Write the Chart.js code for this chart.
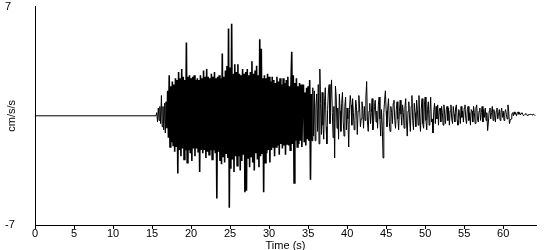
<!DOCTYPE html>
<html lang="en">
<head>
<meta charset="UTF-8">
<title>Acceleration record</title>
<script src="https://cdn.jsdelivr.net/npm/chart.js@4"></script>
<style>
  * { margin: 0; padding: 0; }
  body { background: #fff; width: 550px; height: 250px; overflow: hidden; }
</style>
</head>
<body>
<canvas id="chart" width="550" height="250"></canvas>
<script>
// ---------- data ----------
const X_TICKS = [0, 5, 10, 15, 20, 25, 30, 35, 40, 45, 50, 55, 60];
const Y_TICKS = [-7, 7];
const X_TITLE = 'Time (s)';
const Y_TITLE = 'cm/s/s';

// quiet part before the first arrival
const QUIET = [[0, 0], [15.5, 0]];

// samples every 0.1 s, starting at 15.6 s (one row per second after the first)
const START = 15.6;
const STEP = 0.1;
const ACCEL = [
  0.2, -0.4, 0.5, -0.3,
  0.6, -0.5, 1.3, -0.7, 0.6, -0.9, 0.8, -1.1, 0.9, -0.8,
  1.6, -1.4, 2.6, -2.0, 1.9, -1.7, 2.2, -1.9, 2.0, -2.3,
  2.4, -2.0, 2.3, -3.7, 2.8, -2.2, 2.4, -2.6, 3.0, -2.1,
  2.5, -2.8, 2.3, -2.2, 4.7, -3.0, 2.5, -2.2, 2.6, -2.4,
  2.4, -2.9, 2.5, -2.1, 2.6, -2.6, 2.3, -2.1, 2.4, -2.3,
  2.3, -3.6, 2.6, -2.2, 2.4, -2.4, 2.9, -2.2, 2.5, -2.7,
  3.0, -2.3, 2.5, -2.5, 2.4, -2.2, 2.7, -2.8, 2.5, -2.2,
  2.8, -2.4, 2.4, -5.3, 2.5, -2.3, 2.6, -2.9, 2.4, -3.1,
  4.0, -2.6, 2.5, -3.0, 2.9, -2.4, 3.2, -2.7, 5.6, -5.9,
  3.1, -3.4, 5.9, -2.8, 2.7, -3.6, 3.3, -2.6, 2.8, -3.2,
  3.3, -2.6, 2.7, -3.5, 2.6, -2.9, 3.0, -2.5, 2.7, -4.9,
  2.8, -4.8, 3.0, -2.7, 2.6, -3.3, 2.8, -2.6, 3.5, -3.0,
  2.7, -3.5, 2.9, -2.4, 3.2, -2.8, 2.6, -3.3, 4.9, -2.6,
  4.3, -2.4, 2.4, -4.9, 2.6, -3.0, 2.4, -2.4, 2.7, -2.2,
  2.5, -3.0, 2.2, -2.2, 2.5, -2.0, 2.3, -2.6, 2.1, -2.0,
  2.5, -1.9, 2.2, -2.5, 2.4, -1.8, 2.0, -2.1, 2.4, -1.9,
  2.1, -2.5, 2.3, -1.8, 2.5, -1.9, 1.9, -2.2, 2.0, 4.1,
  -1.8, 2.6, -4.3, 2.1, -1.6, 2.4, -2.0, 1.9, -1.8, 2.1,
  -1.6, 2.0, -2.0, 1.6, 2.0, -1.7, 1.5, -1.9, 1.8, -1.5,
  1.9, -1.6, 2.3, -4.1, 1.4, -1.6, 1.8, -1.3, 1.6, -1.6,
  0.6, 1.4, -1.0, 2.0, -1.8, 3.0, 0.8, -1.2, 1.5, -0.6,
  -1.5, 0.9, 1.8, -0.7, -1.8, 0.4, 1.6, 2.0, -0.5, 1.1,
  2.3, 0.2, -1.4, 0.6, -2.7, 1.9, 1.2, -0.8, 0.5, -1.5,
  1.4, 0.3, -1.0, 0.8, 1.5, -0.4, -1.3, 0.6, 1.2, -0.9,
  0.5, -0.2, -2.0, 0.4, 1.3, 0.7, -0.6, 1.1, 0.2, -0.9,
  -0.3, 1.0, 0.6, -1.2, 0.3, 1.3, 0.5, -0.7, -0.2, 0.9,
  0.4, -0.8, 0.6, -0.3, 1.2, 2.2, -0.4, -1.0, 0.3, 0.8,
  -0.5, 0.2, 1.1, -0.9, -0.3, 0.6, 1.0, -0.4, 0.3, -0.8,
  0.7, 1.2, -0.2, -1.3, 0.4, -0.6, -2.7, 0.2, 1.0, 1.6,
  0.3, -0.7, 0.5, 1.1, -0.4, -1.0, 0.6, 0.2, -0.5, 0.8,
  1.0, -0.3, -0.8, 0.4, 0.9, -0.2, -0.9, 0.3, 1.0, 0.1,
  -0.6, 0.7, 0.2, -0.8, 0.5, 1.1, -0.4, -1.3, 0.3, 0.9,
  -0.2, -1.0, 0.6, 1.3, -0.3, -0.9, 0.8, 0.2, -0.7, 1.0,
  0.4, -0.6, 1.3, -0.2, -1.0, 0.5, 1.1, -0.5, -0.8, 0.7,
  1.2, -0.3, -0.9, 0.4, 0.9, -0.6, 0.1, 1.2, -0.4, -0.2,
  -1.1, 0.3, 0.8, -0.5, 0.6, -0.2, 0.7, -0.6, 0.3, 0.5,
  -0.4, 0.6, 0.2, -0.6, 0.7, 0.1, -0.5, 0.4, 0.6, -0.3,
  0.5, -0.6, 0.3, 0.7, -0.2, -0.5, 0.6, 0.1, -0.4, 0.5,
  0.7, -0.3, -0.6, 0.4, 0.2, -0.5, 0.6, -0.1, 0.3, -0.4,
  0.5, 0.7, -0.2, -0.5, 0.4, 0.6, -0.3, 0.2, -0.6, 0.4,
  0.3, -0.4, 0.6, 0.2, -0.5, 0.5, 0.7, -0.2, -0.4, 0.3,
  0.5, -0.3, 0.2, 0.6, -0.4, 0.4, -0.1, 0.5, -0.3, 0.2,
  -0.95, -0.4, 0.3, 0.5, -0.2, 0.2, 0.6, -0.3, 0.4, 0.1,
  -0.4, 0.3, 0.5, -0.2, 0.1, 0.4, -0.3, 0.2, 0.5, -0.1,
  0.3, -0.3, 0.2, 0.4, 0.1, -0.2, 0.7, 0.3, -0.5, -0.3,
  -0.2, 0.1, 0.2, 0.0, 0.25, 0.1, 0.2, 0.0, 0.15, 0.25,
  0.1, 0.2, 0.05, 0.15, 0.2, 0.1, 0.0, 0.05, 0.1, 0.15,
  0.1, 0.0, 0.05, 0.1, 0.05, 0.1, 0.1, 0.05, 0.1, 0.1,
  0.05, 0.0
];

// ---------- chart ----------
const points = QUIET.map(([x, y]) => ({ x, y }))
  .concat(ACCEL.map((y, i) => ({ x: +(START + i * STEP).toFixed(2), y })));

const FONT = { family: 'Liberation Sans, Arial, sans-serif', size: 11 };

// the strong-motion stretch prints as a near-solid mass, so draw it a bit heavier
const heavy = ctx => (ctx.p0.parsed.x >= 16.8 && ctx.p1.parsed.x <= 35.5 ? 1.6 : 1);

new Chart(document.getElementById('chart'), {
  type: 'line',
  data: {
    datasets: [{
      data: points,
      borderColor: '#000',
      borderWidth: 1,
      pointRadius: 0,
      tension: 0,
      fill: false,
      segment: { borderWidth: heavy },
    }],
  },
  options: {
    responsive: false,
    animation: false,
    devicePixelRatio: 1,
    layout: { padding: { top: 0, right: 14, left: 5, bottom: 0 } },
    plugins: { legend: { display: false }, tooltip: { enabled: false } },
    scales: {
      x: {
        type: 'linear',
        min: 0,
        max: 64.2,
        afterBuildTicks: axis => { axis.ticks = X_TICKS.map(v => ({ value: v })); },
        afterFit: axis => { axis.height = 25; },
        ticks: { color: '#000', font: FONT, padding: -2, maxRotation: 0 },
        grid: { drawOnChartArea: false, drawTicks: true, tickLength: 4, color: '#000' },
        border: { color: '#000', width: 1 },
        title: {
          display: true, text: X_TITLE, color: '#000',
          font: { ...FONT, lineHeight: 1 }, padding: { top: 0, bottom: -1 },
        },
      },
      y: {
        min: -7,
        max: 7,
        afterBuildTicks: axis => { axis.ticks = Y_TICKS.map(v => ({ value: v })); },
        afterFit: axis => { axis.width = 30; },
        ticks: { color: '#000', font: FONT, crossAlign: 'far', padding: 0 },
        grid: { display: false },
        border: { color: '#000', width: 1 },
        title: { display: true, text: Y_TITLE, color: '#000', font: FONT, padding: 0 },
      },
    },
  },
});
</script>
</body>
</html>
